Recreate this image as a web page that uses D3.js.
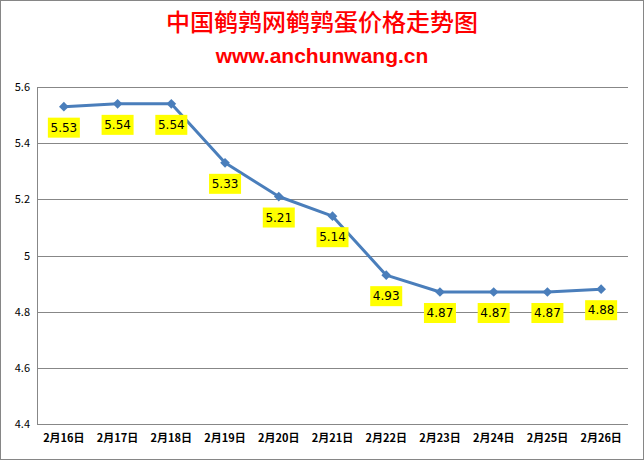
<!DOCTYPE html>
<head>
  <meta charset="utf-8">
  <style>
    body { margin: 0; background: #fff; }
    .axis text { font-family: "Noto Sans CJK SC", "DejaVu Sans", sans-serif; font-size: 11px; fill: #000; }
  </style>
  <script src="https://cdn.jsdelivr.net/npm/d3@7/dist/d3.min.js"></script>
</head>
<body>
  <script>
    var w = 644;
    var h = 460;

    var dates = ["2月16日", "2月17日", "2月18日", "2月19日", "2月20日", "2月21日",
                 "2月22日", "2月23日", "2月24日", "2月25日", "2月26日"];
    var prices = [5.53, 5.54, 5.54, 5.33, 5.21, 5.14, 4.93, 4.87, 4.87, 4.87, 4.88];
    var yTicks = [4.4, 4.6, 4.8, 5, 5.2, 5.4, 5.6];

    var svg = d3.select("body").append("svg")
      .attr("width", w)
      .attr("height", h);

    // outer border
    svg.append("rect")
      .attr("x", 0.5).attr("y", 0.5)
      .attr("width", w - 1).attr("height", h - 1)
      .attr("fill", "#fff")
      .attr("stroke", "#868686");

    var plotL = 37, plotR = 628, plotT = 87, plotB = 424;

    var xScale = d3.scaleBand()
      .domain(dates)
      .range([plotL, plotR]);

    var yScale = d3.scaleLinear()
      .domain([4.4, 5.6])
      .range([plotB, plotT]);

    // gridlines
    svg.selectAll("line.grid")
      .data(yTicks)
      .enter()
      .append("line")
      .attr("class", "grid")
      .attr("x1", plotL).attr("x2", plotR)
      .attr("y1", function(d) { return Math.round(yScale(d)) + 0.5; })
      .attr("y2", function(d) { return Math.round(yScale(d)) + 0.5; })
      .attr("stroke", "#878787")
      .attr("stroke-width", 1);

    // y axis line
    svg.append("line")
      .attr("x1", plotL + 0.5).attr("x2", plotL + 0.5)
      .attr("y1", plotT).attr("y2", plotB)
      .attr("stroke", "#878787");

    var yAxis = svg.append("g")
      .attr("class", "axis")
      .attr("transform", "translate(" + plotL + ",0)")
      .call(d3.axisLeft(yScale).tickValues(yTicks).tickSize(0).tickPadding(7)
        .tickFormat(function(d) { return String(+d.toFixed(1)); }));
    yAxis.select(".domain").remove();

    var xAxis = svg.append("g")
      .attr("class", "axis")
      .attr("transform", "translate(0," + plotB + ")")
      .call(d3.axisBottom(xScale).tickSize(0).tickPadding(10));
    xAxis.select(".domain").remove();
    xAxis.selectAll("text").attr("font-weight", "bold");

    var cx = function(d, i) { return xScale(dates[i]) + xScale.bandwidth() / 2; };

    var line = d3.line()
      .x(cx)
      .y(function(d) { return yScale(d); });

    svg.append("path")
      .datum(prices)
      .attr("d", line)
      .attr("fill", "none")
      .attr("stroke", "#4a7ebb")
      .attr("stroke-width", 3)
      .attr("stroke-linejoin", "round");

    svg.selectAll("path.marker")
      .data(prices)
      .enter()
      .append("path")
      .attr("class", "marker")
      .attr("d", d3.symbol().type(d3.symbolDiamond2).size(60))
      .attr("transform", function(d, i) {
        return "translate(" + cx(d, i) + "," + yScale(d) + ")";
      })
      .attr("fill", "#4a7ebb");

    // data labels
    var labels = svg.selectAll("g.lbl")
      .data(prices)
      .enter()
      .append("g")
      .attr("class", "lbl")
      .attr("transform", function(d, i) {
        return "translate(" + cx(d, i) + "," + (yScale(d) + 21) + ")";
      });

    labels.append("rect")
      .attr("x", -16).attr("y", -10)
      .attr("width", 32).attr("height", 20)
      .attr("fill", "#ffff00");

    labels.append("text")
      .text(function(d) { return d.toFixed(2); })
      .attr("text-anchor", "middle")
      .attr("dy", "0.35em")
      .attr("font-family", "'DejaVu Sans', sans-serif")
      .attr("font-size", "12px")
      .attr("fill", "#000");

    // titles
    svg.append("text")
      .text("中国鹌鹑网鹌鹑蛋价格走势图")
      .attr("x", 322).attr("y", 31)
      .attr("text-anchor", "middle")
      .attr("font-family", "'Noto Sans CJK SC', sans-serif")
      .attr("font-weight", 500)
      .attr("font-size", "24px")
      .attr("fill", "#ff0000");

    svg.append("text")
      .text("www.anchunwang.cn")
      .attr("x", 322).attr("y", 63)
      .attr("text-anchor", "middle")
      .attr("font-family", "'Liberation Sans', sans-serif")
      .attr("font-weight", "bold")
      .attr("font-size", "21px")
      .attr("fill", "#ff0000");
  </script>
</body>
